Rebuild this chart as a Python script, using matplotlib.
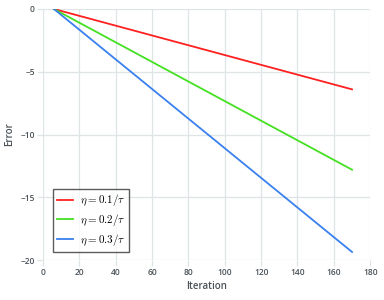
import matplotlib
matplotlib.use('Agg')
import matplotlib.pyplot as plt

plt.rcParams['mathtext.fontset'] = 'cm'

# Data
iterations = [6, 170]
err_01 = [0.0, -6.4]
err_02 = [0.0, -12.8]
err_03 = [0.0, -19.35]
labels = [r'$\eta = 0.1/\tau$', r'$\eta = 0.2/\tau$', r'$\eta = 0.3/\tau$']
colors = ['#ff2020', '#44e022', '#3a80ee']

GRID = '#dfe5e7'
TXT = '#4a5258'

fig = plt.figure(figsize=(3.84, 3.0), dpi=100)
ax = fig.add_axes([0.112, 0.133, 0.852, 0.837])

for ys, c, lab in zip([err_01, err_02, err_03], colors, labels):
    ax.plot(iterations, ys, color=c, linewidth=1.3, label=lab)

ax.set_xlim(0, 180)
ax.set_ylim(-20, 0)
ax.set_xticks(range(0, 181, 20))
ax.set_yticks([0, -5, -10, -15, -20])
ax.grid(True, color=GRID, linewidth=0.9)
ax.set_axisbelow(True)
for s in ax.spines.values():
    s.set_visible(False)
ax.tick_params(colors=GRID, length=4, width=0.9, labelcolor=TXT,
               labelsize=6, pad=2)
for t in ax.get_xticklabels() + ax.get_yticklabels():
    t.set_fontfamily('Open Sans')
    t.set_fontweight('semibold')

ax.set_xlabel('Iteration', fontsize=7, color=TXT, family='Open Sans',
              fontweight='semibold')
ax.xaxis.set_label_coords(0.5, -0.085)
ax.set_ylabel('Error', fontsize=7, color=TXT, family='Open Sans',
              fontweight='semibold')
ax.yaxis.set_label_coords(-0.085, 0.5)

leg = ax.legend(loc='lower left', bbox_to_anchor=(0.03, 0.032), fontsize=8,
                frameon=True, fancybox=False, handlelength=1.5,
                borderpad=0.35, labelspacing=0.35, handletextpad=0.6,
                borderaxespad=0)
leg.get_frame().set_edgecolor('#333333')
leg.get_frame().set_linewidth(1.0)

fig.savefig('out.png', dpi=100)
